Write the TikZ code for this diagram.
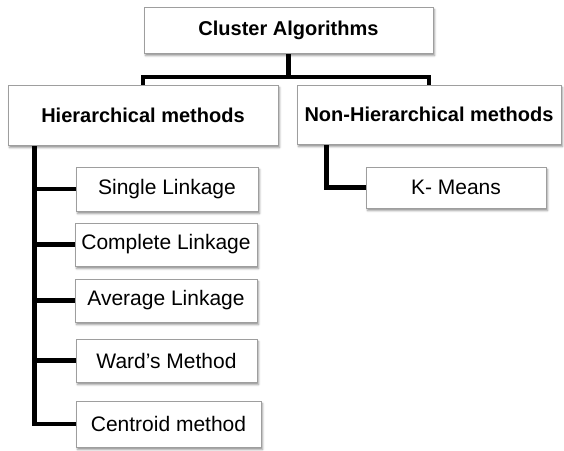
\documentclass[tikz,border=0pt]{standalone}
\usepackage{fontspec}
\setmainfont{Liberation Sans}
\usetikzlibrary{shadows.blur,backgrounds}
\begin{document}
\begin{tikzpicture}[x=1pt,y=-1pt,
  box/.style={draw=black!38, line width=1pt, fill=white, inner sep=0pt,
    blur shadow={shadow xshift=1.5pt, shadow yshift=-2.5pt,
      shadow blur radius=2pt, shadow opacity=45}},
  head/.style={box, font=\fontsize{20}{24}\selectfont\bfseries},
  leaf/.style={box, font=\fontsize{21}{25}\selectfont},
  link/.style={line width=4.5pt, line join=miter, draw=black}]
  \useasboundingbox (0,0) rectangle (564,450);

  % top level
  \node[head, minimum width=289pt, minimum height=46pt] (top) at (288.5,30) {Cluster Algorithms};

  % second level
  \node[head, minimum width=270pt, minimum height=60pt] (hier) at (143,115) {Hierarchical methods};
  \node[head, minimum width=264pt, minimum height=59pt] (nonhier) at (429,114.5) {Non-Hierarchical methods};

  % hierarchical methods
  \node[leaf, minimum width=182pt, minimum height=44pt] (single) at (167,189) {Single Linkage};
  \node[leaf, minimum width=182pt, minimum height=43pt] (complete) at (166,244.5) {Complete Linkage};
  \node[leaf, minimum width=182pt, minimum height=43pt] (average) at (166,300.5) {Average Linkage};
  \node[leaf, minimum width=181pt, minimum height=43pt] (ward) at (166.5,360.5) {Ward’s Method};
  \node[leaf, minimum width=185pt, minimum height=46pt] (centroid) at (168.5,424) {Centroid method};

  % non-hierarchical methods
  \node[leaf, minimum width=180pt, minimum height=41pt] (kmeans) at (456,187.5) {K- Means};

  \coordinate (bar) at (288.5,77);
  \coordinate (hspine) at ([xshift=27pt]hier.south west);
  \coordinate (nspine) at ([xshift=30pt]nonhier.south west);

  \begin{scope}[on background layer]
    \draw[link] (top.south) -- (bar);
    \draw[link] (hier.north) |- (bar) -| (nonhier.north);
    \draw[link] (hspine) |- (centroid.west);
    \draw[link] (hspine |- single.west) -- (single.west);
    \draw[link] (hspine |- complete.west) -- (complete.west);
    \draw[link] (hspine |- average.west) -- (average.west);
    \draw[link] (hspine |- ward.west) -- (ward.west);
    \draw[link] (nspine) |- (kmeans.west);
  \end{scope}
\end{tikzpicture}
\end{document}
